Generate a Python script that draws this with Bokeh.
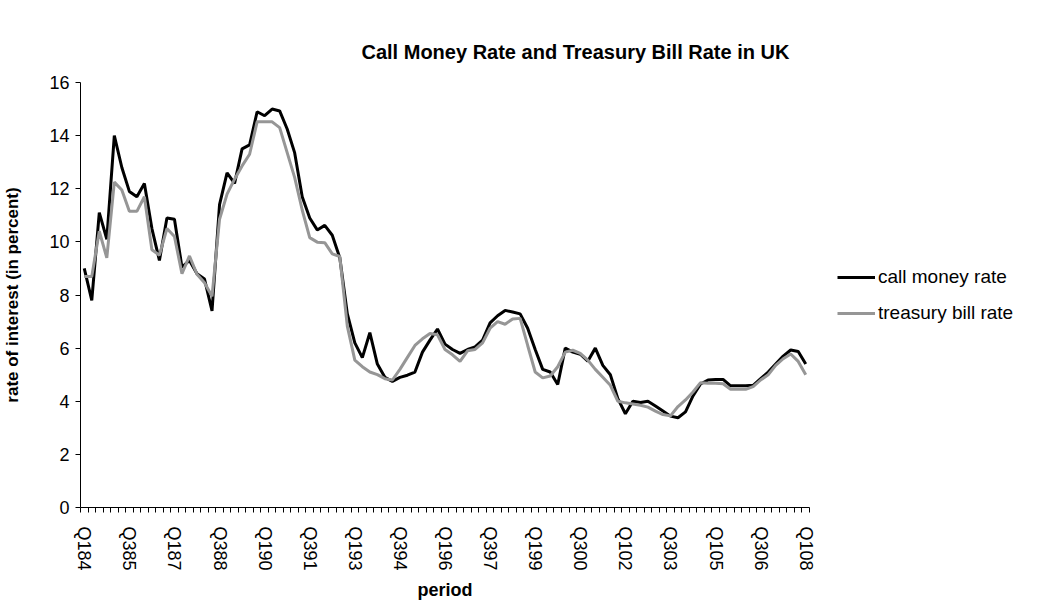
import math
from bokeh.plotting import figure
from bokeh.models import Range1d, FixedTicker, Legend, LegendItem, ColumnDataSource
from bokeh.embed import file_html
from bokeh.resources import INLINE

# ---------------- data ----------------
years = [f"{y % 100:02d}" for y in range(1984, 2009)]
periods = [f"Q{q}{yy}" for yy in years for q in (1, 2, 3, 4)][:97]

call_money_rate = [
    9.0, 7.8, 11.1, 10.1, 14.0, 12.8, 11.9, 11.7, 12.2, 10.5,
    9.3, 10.9, 10.85, 9.05, 9.3, 8.8, 8.6, 7.4, 11.4, 12.6,
    12.2, 13.5, 13.65, 14.9, 14.75, 15.0, 14.93, 14.25, 13.35, 11.7,
    10.9, 10.45, 10.62, 10.25, 9.4, 7.3, 6.2, 5.64, 6.58, 5.4,
    4.9, 4.75, 4.9, 4.98, 5.1, 5.85, 6.3, 6.72, 6.15, 5.95,
    5.8, 5.95, 6.05, 6.3, 6.95, 7.22, 7.42, 7.36, 7.29, 6.75,
    5.95, 5.2, 5.1, 4.63, 6.0, 5.85, 5.77, 5.51, 6.0, 5.35,
    5.0, 4.1, 3.53, 4.0, 3.95, 4.0, 3.82, 3.63, 3.44, 3.38,
    3.6, 4.2, 4.65, 4.8, 4.82, 4.82, 4.58, 4.58, 4.58, 4.6,
    4.85, 5.1, 5.4, 5.7, 5.93, 5.87, 5.4,
]

treasury_bill_rate = [
    8.7, 8.7, 10.4, 9.4, 12.25, 11.95, 11.15, 11.15, 11.7, 9.7,
    9.5, 10.5, 10.2, 8.8, 9.47, 8.78, 8.46, 7.95, 10.85, 11.8,
    12.36, 12.86, 13.3, 14.52, 14.52, 14.52, 14.3, 13.36, 12.42, 11.2,
    10.16, 9.99, 9.97, 9.55, 9.45, 6.83, 5.55, 5.3, 5.1, 5.0,
    4.85, 4.8, 5.2, 5.65, 6.1, 6.35, 6.55, 6.5, 5.95, 5.75,
    5.5, 5.9, 5.95, 6.2, 6.75, 7.0, 6.9, 7.1, 7.12, 6.1,
    5.1, 4.88, 4.95, 5.3, 5.85, 5.92, 5.8, 5.55, 5.2, 4.9,
    4.6, 4.0, 3.94, 3.9, 3.85, 3.78, 3.63, 3.5, 3.45, 3.8,
    4.05, 4.35, 4.7, 4.68, 4.68, 4.66, 4.45, 4.45, 4.45, 4.55,
    4.8, 5.0, 5.35, 5.6, 5.78, 5.5, 5.0,
]

label_every = 6
y_ticks = [0, 2, 4, 6, 8, 10, 12, 14, 16]
title_text = "Call Money Rate and Treasury Bill Rate in UK"

# ---------------- figure ----------------
n = len(periods)
xpos = [i + 0.5 for i in range(n)]
src = ColumnDataSource(dict(x=xpos, period=periods, cm=call_money_rate, tb=treasury_bill_rate))

FONT = "Liberation Sans"

p = figure(frame_width=729, frame_height=425, output_backend="svg", toolbar_location=None,
           x_range=Range1d(0, n), y_range=Range1d(0, 16),
           min_border_left=80, min_border_right=244, min_border_top=82, min_border_bottom=95)
p.outline_line_color = None
p.xgrid.grid_line_color = None
p.ygrid.grid_line_color = None
p.background_fill_color = "white"
p.border_fill_color = "white"

r1 = p.line("x", "cm", source=src, line_color="black", line_width=3)
r2 = p.line("x", "tb", source=src, line_color="#969696", line_width=3)

p.title.text = title_text
p.title.text_font = FONT
p.title.text_font_style = "bold"
p.title.text_font_size = "20px"
p.title.text_color = "black"
p.title.align = "left"
p.title.offset = 281
p.title.standoff = 40

# x axis
shown = list(range(0, n, label_every))
p.xaxis.ticker = FixedTicker(ticks=[xpos[i] for i in shown], minor_ticks=list(range(0, n + 1)))
p.xaxis.major_label_overrides = {xpos[i]: periods[i] for i in shown}
p.xaxis.major_label_orientation = -math.pi / 2
p.xaxis.major_tick_out = 0
p.xaxis.major_tick_in = 0
p.xaxis.minor_tick_out = 5
p.xaxis.minor_tick_in = 0
p.xaxis.minor_tick_line_color = "black"
p.xaxis.axis_line_color = "black"
p.xaxis.major_label_text_font = FONT
p.xaxis.major_label_text_font_size = "18px"
p.xaxis.major_label_text_color = "black"
p.xaxis.major_label_standoff = 14
p.xaxis.axis_label = "period"
p.xaxis.axis_label_text_font = FONT
p.xaxis.axis_label_text_font_style = "bold"
p.xaxis.axis_label_text_font_size = "18px"
p.xaxis.axis_label_text_color = "black"
p.xaxis.axis_label_standoff = 6

# y axis
p.yaxis.ticker = FixedTicker(ticks=y_ticks)
p.yaxis.major_tick_out = 5
p.yaxis.major_tick_in = 0
p.yaxis.minor_tick_line_color = None
p.yaxis.axis_line_color = "black"
p.yaxis.major_label_text_font = FONT
p.yaxis.major_label_text_font_size = "18px"
p.yaxis.major_label_text_color = "black"
p.yaxis.major_label_standoff = 6
p.yaxis.axis_label = "rate of interest (in percent)"
p.yaxis.axis_label_text_font = FONT
p.yaxis.axis_label_text_font_style = "bold"
p.yaxis.axis_label_text_font_size = "17px"
p.yaxis.axis_label_text_color = "black"
p.yaxis.axis_label_standoff = 24

legend = Legend(items=[LegendItem(label="call money rate", renderers=[r1]),
                       LegendItem(label="treasury bill rate", renderers=[r2])],
                location="center_left", border_line_color=None, background_fill_alpha=0,
                label_text_font=FONT, label_text_font_size="19px", label_text_color="black",
                glyph_width=38, glyph_height=20, label_standoff=3, spacing=14,
                padding=0, margin=28)
p.add_layout(legend, "right")

open("out.html", "w").write(file_html(p, INLINE))
